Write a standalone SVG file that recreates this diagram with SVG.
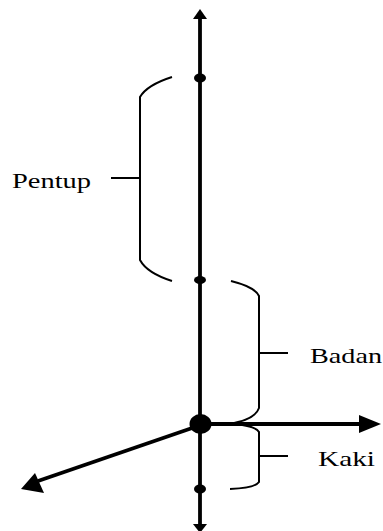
<svg xmlns="http://www.w3.org/2000/svg" width="383" height="531" viewBox="0 0 383 531">
<style>
.axis{stroke:#000;stroke-width:3.8;fill:none}
.brace{stroke:#000;stroke-width:2;fill:none}
.lbl{font-family:"Liberation Serif","Times New Roman",serif;font-size:21px;fill:#000}
</style>
<rect width="383" height="531" fill="#fff"/>
<g id="connectors">
<line class="axis" x1="200" y1="16" x2="200" y2="526"/>
<polygon points="200,9 207,19 193,19" fill="#000"/>
<polygon points="200,533 207,524 193,524" fill="#000"/>
<line class="axis" x1="200" y1="424" x2="362" y2="424"/>
<polygon points="381,424 359,415 359,433" fill="#000"/>
<line class="axis" x1="198" y1="426" x2="38" y2="481"/>
<polygon points="21,489 35,473 44,493" fill="#000"/>
</g>
<g id="points">
<ellipse cx="200" cy="78" rx="6" ry="4.5" fill="#000"/>
<ellipse cx="200" cy="280" rx="6" ry="4" fill="#000"/>
<ellipse cx="200.5" cy="424" rx="11" ry="10" fill="#000"/>
<ellipse cx="200" cy="489" rx="6" ry="4.5" fill="#000"/>
</g>
<g id="pentup">
<path class="brace" d="M172,77 Q147,85 140,97 V260 Q147,273 172,281 M111,178 H140"/>
<text class="lbl" x="12" y="188" textLength="79" lengthAdjust="spacingAndGlyphs">Pentup</text>
</g>
<g id="badan">
<path class="brace" d="M231,281 Q255,287 259,296 V408 Q255,420 228,424 M259,353 H288"/>
<text class="lbl" x="310" y="363" textLength="72" lengthAdjust="spacingAndGlyphs">Badan</text>
</g>
<g id="kaki">
<path class="brace" d="M228,424 Q255,425 259,432 V482 Q255,488 230,489 M259,456 H288"/>
<text class="lbl" x="318" y="466" textLength="57" lengthAdjust="spacingAndGlyphs">Kaki</text>
</g>
</svg>
